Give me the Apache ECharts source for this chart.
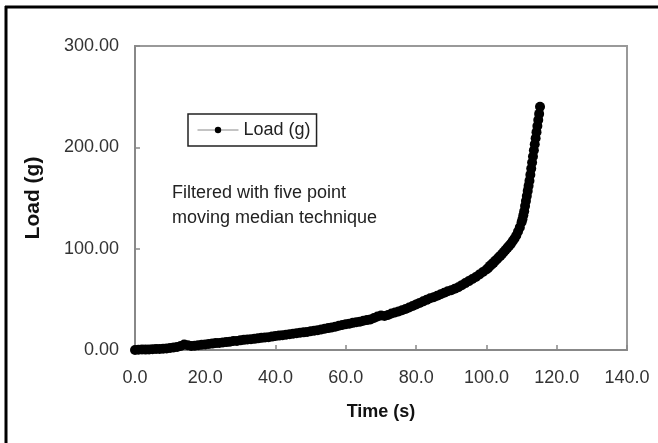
<!DOCTYPE html>
<html>
<head>
<meta charset="utf-8">
<script src="https://cdn.jsdelivr.net/npm/echarts@6/dist/echarts.min.js"></script>
<style>
  html, body { margin: 0; padding: 0; background: #fff; }
  #chart { width: 658px; height: 443px; }
</style>
</head>
<body>
<div id="chart"></div>
<script>
  // 时间 (s) 与 载荷 (g)
  var timeS = [
    0, 1, 2, 3, 4, 5, 6, 7, 8, 9, 10, 11, 12, 13, 14, 15, 16, 17, 18, 19,
    20, 21, 22, 23, 24, 25, 26, 27, 28, 29, 30, 31, 32, 33, 34, 35, 36, 37, 38, 39,
    40, 41, 42, 43, 44, 45, 46, 47, 48, 49, 50, 51, 52, 53, 54, 55, 56, 57, 58, 59,
    60, 61, 62, 63, 64, 65, 66, 67, 68, 69, 70, 71, 72, 73, 74, 75, 76, 77, 78, 79,
    80, 81, 82, 83, 84, 85, 86, 87, 88, 89, 90, 91, 92, 93, 94, 95, 96, 97, 98, 99,
    100, 100.5, 101, 101.5, 102, 102.5, 103, 103.5, 104, 104.5, 105, 105.5, 106, 106.5,
    107, 107.5, 108, 108.5, 109, 109.5, 110, 110.25, 110.5, 110.75, 111, 111.25, 111.5,
    111.75, 112, 112.25, 112.5, 112.75, 113, 113.25, 113.5, 113.75, 114, 114.25, 114.5,
    114.75, 115, 115.25
  ];
  var loadG = [
    0, 0.3, 0.5, 0.4, 0.6, 0.8, 1, 1.1, 1.3, 1.6, 2, 2.4, 3, 4, 5.5, 4.8, 4, 4.3, 4.8, 5.2,
    5.5, 6, 6.3, 6.8, 7, 7.5, 7.8, 8.2, 8.8, 9, 9.5, 10, 10.4, 10.6, 11, 11.5, 12, 12.3, 12.6, 13.2,
    13.8, 14.2, 14.5, 15, 15.6, 16, 16.5, 17, 17.4, 17.8, 18.5, 19, 19.6, 20.2, 21, 21.6, 22.3, 23, 24, 24.6,
    25.5, 26, 26.8, 27.4, 28, 28.8, 29.5, 30.2, 31.5, 33, 34, 33.5, 34.5, 36, 37, 38, 39.2, 40.5, 42, 43.5,
    45, 46.5, 48, 49.5, 51, 52, 53.5, 55, 56.5, 58, 59, 60.5, 62, 64, 66, 68, 70, 72, 74.5, 77,
    79.5, 81, 83, 84.5, 86, 88, 89.5, 91.5, 93, 95, 97, 99, 101, 103,
    105, 107.5, 110, 113, 117, 121, 126, 129, 133, 137, 142, 147, 152,
    157, 162, 167, 173, 179, 185, 191, 197, 203, 209, 215, 221,
    227, 233, 240
  ];
  var seriesName = 'Load (g)';
  var noteLines = ['Filtered with five point', 'moving median technique'];

  var points = timeS.map(function (t, i) { return [t, loadG[i]]; });

  var chart = echarts.init(document.getElementById('chart'), null, { renderer: 'canvas' });
  var font = 'Liberation Sans, Arial, sans-serif';

  var option = {
    animation: false,
    backgroundColor: '#fff',
    textStyle: { fontFamily: font },
    grid: {
      left: 135, right: 31, top: 46, bottom: 93,
      show: true,
      borderColor: '#999',
      borderWidth: 2
    },
    legend: {
      data: [seriesName],
      left: 188,
      top: 114,
      borderColor: '#222',
      borderWidth: 1.5,
      padding: [7, 6, 7, 9],
      itemWidth: 41,
      itemHeight: 8,
      itemGap: 5,
      lineStyle: { color: '#888', width: 1 },
      textStyle: { fontSize: 18, color: '#222', fontFamily: font }
    },
    graphic: [
      {
        type: 'text',
        left: 172,
        top: 181,
        style: {
          text: noteLines.join('\n'),
          font: '18px ' + font,
          lineHeight: 25,
          fill: '#222'
        }
      },
      {
        type: 'line',
        shape: { x1: 5, y1: 7, x2: 658, y2: 7 },
        style: { stroke: '#000', lineWidth: 3 }
      },
      {
        type: 'line',
        shape: { x1: 6, y1: 6, x2: 6, y2: 443 },
        style: { stroke: '#000', lineWidth: 3 }
      }
    ],
    xAxis: {
      type: 'value',
      min: 0,
      max: 140,
      interval: 20,
      name: 'Time (s)',
      nameLocation: 'middle',
      nameGap: 53,
      nameTextStyle: { fontSize: 18, fontWeight: 'bold', color: '#111' },
      axisLine: { lineStyle: { color: '#888', width: 2 } },
      axisTick: { inside: true, length: 5, lineStyle: { color: '#888', width: 1.5 } },
      splitLine: { show: false },
      axisLabel: {
        margin: 19,
        fontSize: 18,
        color: '#333',
        formatter: function (v) { return v.toFixed(1); }
      }
    },
    yAxis: {
      type: 'value',
      min: 0,
      max: 300,
      interval: 100,
      name: 'Load (g)',
      nameLocation: 'middle',
      nameRotate: 90,
      nameGap: 91,
      nameTextStyle: { fontSize: 21, fontWeight: 'bold', color: '#111' },
      axisLine: { lineStyle: { color: '#888', width: 2 } },
      axisTick: { inside: true, length: 5, lineStyle: { color: '#888', width: 1.5 } },
      splitLine: { show: false },
      axisLabel: {
        margin: 16,
        fontSize: 18,
        color: '#333',
        formatter: function (v) { return v.toFixed(2); }
      }
    },
    series: [
      {
        name: seriesName,
        type: 'line',
        data: points,
        symbol: 'circle',
        symbolSize: 10,
        showSymbol: true,
        showAllSymbol: true,
        itemStyle: { color: '#000' },
        lineStyle: { color: '#000', width: 6 }
      }
    ]
  };
  chart.setOption(option);
</script>
</body>
</html>
